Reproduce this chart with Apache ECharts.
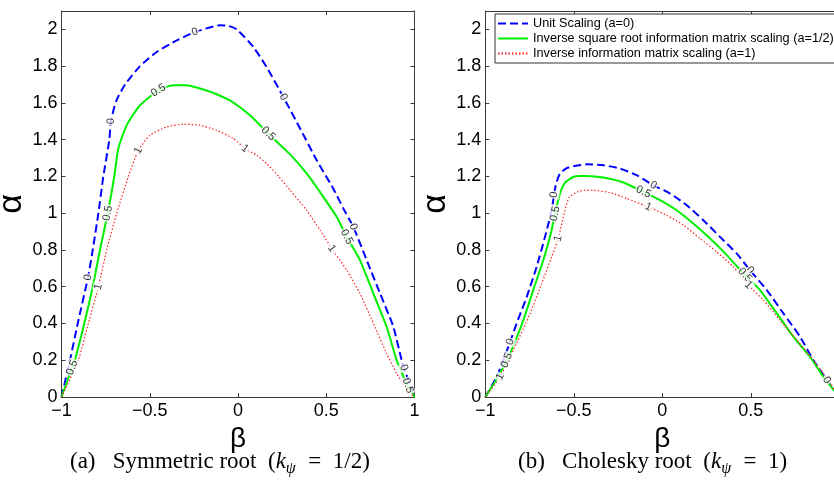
<!DOCTYPE html>
<html><head><meta charset="utf-8">
<script src="https://cdn.jsdelivr.net/npm/echarts@6/dist/echarts.min.js"></script>
<style>html,body{margin:0;padding:0;background:#fff}#c{width:834px;height:481px}</style>
</head><body><div id="c"></div>
<script>
// ---------- data ----------
const seriesNames = ['Unit Scaling (a=0)', 'Inverse square root information matrix scaling (a=1/2)', 'Inverse information matrix scaling (a=1)'];
const contourText = ['0', '0.5', '1'];
const captionA = ['(a)   Symmetric root  (', '  =  1/2)'];
const captionB = ['(b)   Cholesky root  (', '  =  1)'];

// (a) Symmetric root
const symA0 = [[-1,0],[-0.952,0.2],[-0.908,0.4],[-0.85,0.65],[-0.823,0.8],[-0.791,1.0],[-0.763,1.2],[-0.729,1.4],[-0.72,1.5],[-0.69,1.61],[-0.64,1.70],[-0.555,1.80],[-0.461,1.877],[-0.347,1.94],[-0.244,1.985],[-0.102,2.022],[-0.06,2.02],[-0.007,2.0],[0.087,1.904],[0.162,1.795],[0.257,1.632],[0.355,1.455],[0.446,1.288],[0.540,1.133],[0.600,1.02],[0.653,0.926],[0.729,0.745],[0.805,0.563],[0.880,0.382],[0.927,0.201],[0.94,0.16],[0.965,0.092],[1,0]];
const symA05 = [[-1,0],[-0.94,0.16],[-0.924,0.2],[-0.871,0.4],[-0.823,0.6],[-0.782,0.8],[-0.738,1.0],[-0.701,1.2],[-0.678,1.352],[-0.631,1.478],[-0.555,1.587],[-0.451,1.668],[-0.367,1.696],[-0.291,1.696],[-0.215,1.678],[-0.121,1.647],[-0.026,1.602],[0.068,1.533],[0.172,1.433],[0.295,1.32],[0.389,1.216],[0.483,1.089],[0.559,0.98],[0.616,0.871],[0.691,0.745],[0.767,0.563],[0.842,0.382],[0.899,0.201],[0.946,0.092],[0.962,0.062],[1,0]];
const symA1 = [[-1,0],[-0.905,0.2],[-0.848,0.4],[-0.791,0.6],[-0.744,0.8],[-0.687,1.0],[-0.621,1.2],[-0.565,1.34],[-0.499,1.424],[-0.404,1.469],[-0.31,1.484],[-0.215,1.478],[-0.121,1.451],[-0.026,1.406],[0.04,1.352],[0.106,1.315],[0.162,1.27],[0.23,1.2],[0.295,1.125],[0.389,1.016],[0.465,0.908],[0.531,0.808],[0.616,0.69],[0.691,0.563],[0.767,0.4],[0.842,0.237],[0.899,0.129],[0.95,0.05],[1,0]];

// (b) Cholesky root
const cholA0 = [[-1,0],[-0.936,0.11],[-0.87,0.273],[-0.86,0.3],[-0.823,0.4],[-0.766,0.545],[-0.71,0.708],[-0.663,0.87],[-0.625,1.016],[-0.612,1.1],[-0.6,1.16],[-0.578,1.216],[-0.54,1.245],[-0.503,1.255],[-0.427,1.266],[-0.333,1.261],[-0.239,1.243],[-0.145,1.207],[-0.051,1.152],[0.044,1.107],[0.138,1.043],[0.232,0.962],[0.326,0.871],[0.42,0.781],[0.495,0.69],[0.59,0.582],[0.684,0.455],[0.778,0.328],[0.853,0.201],[0.929,0.092],[1,0]];
const cholA05 = [[-1,0],[-0.927,0.11],[-0.879,0.2],[-0.851,0.255],[-0.785,0.418],[-0.729,0.582],[-0.672,0.745],[-0.63,0.889],[-0.606,0.998],[-0.578,1.107],[-0.55,1.165],[-0.503,1.197],[-0.465,1.203],[-0.427,1.203],[-0.333,1.194],[-0.22,1.167],[-0.107,1.116],[-0.013,1.071],[0.081,1.016],[0.175,0.944],[0.27,0.862],[0.364,0.772],[0.467,0.663],[0.552,0.582],[0.647,0.455],[0.74,0.328],[0.834,0.219],[0.91,0.11],[1,0]];
const cholA1 = [[-1,0],[-0.917,0.11],[-0.823,0.292],[-0.747,0.455],[-0.681,0.618],[-0.625,0.762],[-0.588,0.862],[-0.55,1.016],[-0.525,1.089],[-0.465,1.121],[-0.39,1.125],[-0.295,1.112],[-0.201,1.08],[-0.079,1.034],[0.025,0.989],[0.119,0.935],[0.213,0.862],[0.307,0.79],[0.401,0.708],[0.486,0.609],[0.571,0.527],[0.665,0.418],[0.76,0.31],[0.853,0.201],[0.91,0.129],[1,0]];

// contour label positions: [x of point on the curve, rotation in degrees]
const symA0Labels = [[-0.85,80],[-0.72,85],[-0.244,19],[0.257,-62],[0.653,-66],[0.94,-71]];
const symA05Labels = [[-0.94,70],[-0.738,79],[-0.451,31],[0.172,-44],[0.616,-62],[0.962,-72]];
const symA1Labels = [[-0.791,76],[-0.565,62],[0.04,-36],[0.531,-56]];
const cholA0Labels = [[-0.86,70],[-0.612,82],[-0.051,-29],[0.495,-51],[0.929,-60]];
const cholA05Labels = [[-0.879,68],[-0.606,78],[-0.107,-26],[0.467,-47]];
const cholA1Labels = [[-0.917,65],[-0.588,75],[-0.079,-24],[0.486,-45]];

// ---------- styling ----------
const FONT = '"Liberation Sans", Arial, Helvetica, sans-serif';
const SERIF = '"Liberation Serif", "Times New Roman", serif';
const AX = '#3a3a3a';
const styles = [
  {color:'#0000ff', width:2, type:[8,4]},
  {color:'#00f000', width:2, type:'solid'},
  {color:'#ff2020', width:1.2, type:[1.5,2]}
];

function xAxis(gi, pos, main) {
  return {type:'value', gridIndex:gi, position:pos, min:-1, max:1, interval:0.5,
    axisLine:{show:true, onZero:false, lineStyle:{color:AX, width:1}},
    axisTick:{show:true, inside:true, length:4, lineStyle:{color:AX, width:1}},
    axisLabel:{show:main, color:'#000', fontSize:18, fontFamily:FONT, margin:5,
      formatter: v => String(v).replace('-', '\u2212')},
    splitLine:{show:false},
    name: main ? 'β' : '', nameLocation:'middle', nameGap:13,
    nameTextStyle:{fontSize:28, fontFamily:FONT, color:'#000'}
  };
}
function yAxis(gi, pos, main) {
  return {type:'value', gridIndex:gi, position:pos, min:0, max:2.1, interval:0.2,
    axisLine:{show:true, onZero:false, lineStyle:{color:AX, width:1}},
    axisTick:{show:true, inside:true, length:4, lineStyle:{color:AX, width:1}},
    axisLabel:{show:main, color:'#000', fontSize:18, fontFamily:FONT, margin:4, showMaxLabel:false},
    splitLine:{show:false},
    name: main ? 'α' : '', nameLocation:'middle', nameGap:15, nameRotate:90,
    nameTextStyle:{fontSize:34, fontFamily:FONT, color:'#000'}
  };
}

function lineSeries(name, pts, k, xi, yi) {
  return {type:'line', name:name, xAxisIndex:xi, yAxisIndex:yi, data:pts,
    symbol:'none', smooth:0.2, lineStyle:styles[k], itemStyle:{color:styles[k].color},
    z:2, silent:true, animation:false};
}
function labelSeries(pts, labels, k, xi, yi) {
  const data = labels.map(l => {
    const p = pts.find(q => q[0] === l[0]);
    return {value:p, label:{rotate:l[1]}};
  });
  return {type:'scatter', xAxisIndex:xi, yAxisIndex:yi, data:data, symbol:'circle', symbolSize:0,
    itemStyle:{color:'rgba(0,0,0,0)'}, z:10, silent:true, animation:false,
    label:{show:true, position:'inside', formatter:contourText[k], color:'#000',
      fontSize:11, fontFamily:FONT, backgroundColor:'#fff', padding:[0,1]}};
}

const chart = echarts.init(document.getElementById('c'), null, {renderer:'canvas'});
const capRich = {
  n:{fontFamily:SERIF, fontSize:23, fontWeight:'normal', color:'#000', verticalAlign:'bottom', padding:[0,0,4,0]},
  k:{fontFamily:SERIF, fontSize:23, fontWeight:'normal', fontStyle:'italic', color:'#000', verticalAlign:'bottom', padding:[0,0,4,0]},
  s:{fontFamily:SERIF, fontSize:16, fontWeight:'normal', fontStyle:'italic', color:'#000', verticalAlign:'bottom', padding:[0,1,0,0]}
};
function caption(parts) {
  return '{n|' + parts[0] + '}{k|k}{s|ψ}{n|' + parts[1] + '}';
}
chart.setOption({
  animation:false,
  backgroundColor:'#fff',
  title:[
    {text:caption(captionA), left:70, top:450, textStyle:{fontWeight:'normal', rich:capRich}, padding:0},
    {text:caption(captionB), left:518, top:450, textStyle:{fontWeight:'normal', rich:capRich}, padding:0}
  ],
  legend:{orient:'vertical', left:495, top:14, data:seriesNames, itemWidth:30, itemHeight:12, itemGap:2,
    padding:[3,6,3,2], borderColor:'#333', borderWidth:1, backgroundColor:'#fff', selectedMode:false,
    itemStyle:{color:'rgba(0,0,0,0)', borderWidth:0, opacity:0},
    textStyle:{fontFamily:FONT, fontSize:12.7, color:'#000'}},
  grid:[
    {left:61.5, top:11, width:353, height:386, containLabel:false, outerBoundsMode:'none'},
    {left:485.3, top:11, width:354, height:386, containLabel:false, outerBoundsMode:'none'}
  ],
  xAxis:[xAxis(0,'bottom',true), xAxis(0,'top',false), xAxis(1,'bottom',true), xAxis(1,'top',false)],
  yAxis:[yAxis(0,'left',true), yAxis(0,'right',false), yAxis(1,'left',true), yAxis(1,'right',false)],
  series:[
    lineSeries(seriesNames[0], symA0, 0, 0, 0),
    lineSeries(seriesNames[1], symA05, 1, 0, 0),
    lineSeries(seriesNames[2], symA1, 2, 0, 0),
    lineSeries(seriesNames[0], cholA0, 0, 2, 2),
    lineSeries(seriesNames[1], cholA05, 1, 2, 2),
    lineSeries(seriesNames[2], cholA1, 2, 2, 2),
    labelSeries(symA0, symA0Labels, 0, 0, 0),
    labelSeries(symA05, symA05Labels, 1, 0, 0),
    labelSeries(symA1, symA1Labels, 2, 0, 0),
    labelSeries(cholA0, cholA0Labels, 0, 2, 2),
    labelSeries(cholA05, cholA05Labels, 1, 2, 2),
    labelSeries(cholA1, cholA1Labels, 2, 2, 2)
  ]
});
</script></body></html>
